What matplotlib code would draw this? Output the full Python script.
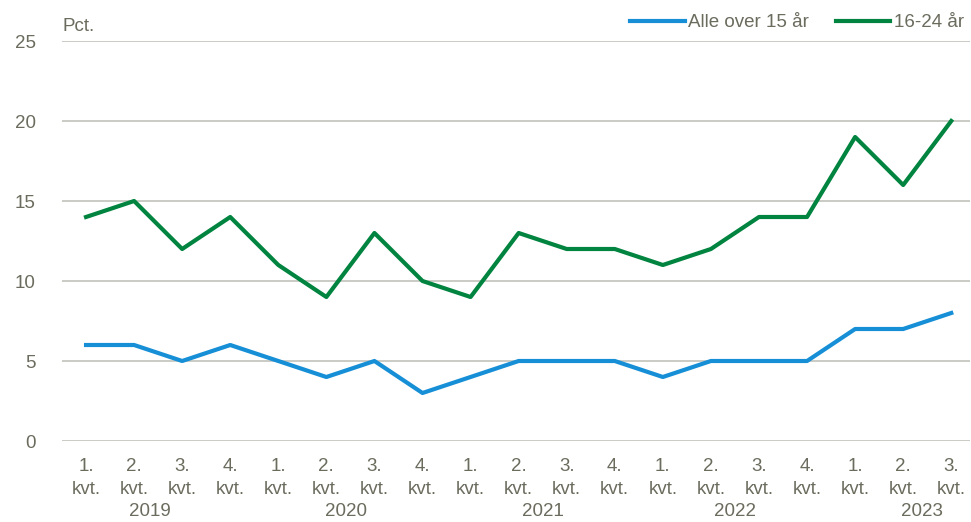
import matplotlib
matplotlib.use("Agg")
import matplotlib.pyplot as plt
from matplotlib import font_manager

# data
quarters = ["1.\nkvt.", "2.\nkvt.", "3.\nkvt.", "4.\nkvt."] * 4 + ["1.\nkvt.", "2.\nkvt.", "3.\nkvt."]
years = ["2019", "2020", "2021", "2022", "2023"]
year_pos = [1.33, 5.4, 9.5, 13.5, 17.4]
alle = [6, 6, 5, 6, 5, 4, 5, 3, 4, 5, 5, 5, 4, 5, 5, 5, 7, 7, 8]
unge = [14, 15, 12, 14, 11, 9, 13, 10, 9, 13, 12, 12, 11, 12, 14, 14, 19, 16, 20]

names = {f.name for f in font_manager.fontManager.ttflist}
fam = "Liberation Sans Narrow" if "Liberation Sans Narrow" in names else "Liberation Sans"
plt.rcParams["font.family"] = [fam, "DejaVu Sans"]
txt = "#6b6b5e"
grid = "#bdbdb5"
fs = 13.5

fig = plt.figure(figsize=(9.71, 5.22), dpi=100)
ax = fig.add_axes([62 / 971, 1 - 441 / 522, (970 - 62) / 971, 400 / 522])

x = list(range(len(alle)))
ax.plot(x, alle, color="#168fd7", linewidth=3, label="Alle over 15 år")
ax.plot(x, unge, color="#00843f", linewidth=3, label="16-24 år")

ax.set_xlim(-0.5, 18.39)
ax.set_ylim(0, 25)
ax.set_yticks([0, 5, 10, 15, 20, 25])
ax.set_xticks(x)
ax.set_xticklabels(quarters, fontsize=fs, color=txt, linespacing=1.45)
ax.tick_params(axis="both", length=0, labelsize=fs, colors=txt)
ax.tick_params(axis="x", pad=12)
ax.tick_params(axis="y", pad=19)
ax.yaxis.grid(True, color=grid, linewidth=1.1)
ax.set_axisbelow(True)
for s in ["top", "right", "left", "bottom"]:
    ax.spines[s].set_visible(False)

for yr, p in zip(years, year_pos):
    ax.text(p, -0.176, yr, transform=ax.get_xaxis_transform(), ha="center", va="center",
            fontsize=fs, color=txt)

ax.text(0, 1.015, "Pct.", transform=ax.transAxes, ha="left", va="bottom", fontsize=fs, color=txt)

leg = fig.legend(loc="upper right", bbox_to_anchor=(1.01, 1.005), ncol=2, frameon=False,
                 fontsize=fs, handlelength=2.9, handletextpad=0.2, columnspacing=1.4)
for t in leg.get_texts():
    t.set_color(txt)

fig.savefig("out.png", dpi=100)
